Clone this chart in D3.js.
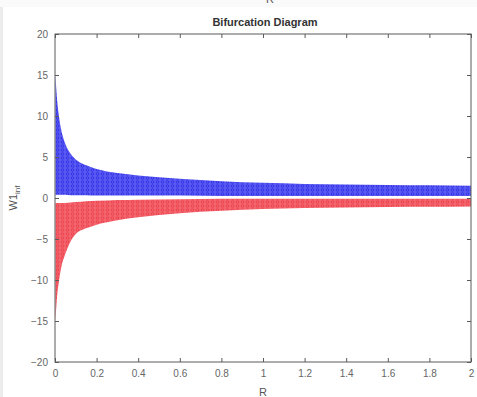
<!DOCTYPE html>
<html><head><meta charset="utf-8">
<script src="https://cdn.jsdelivr.net/npm/d3@7"></script>
<style>body{margin:0;background:#fff;} text{font-family:"Liberation Sans",Arial,sans-serif;}</style>
</head><body>
<script>
// Envelope of the scattered bifurcation points
const R          = [0.002, 0.01, 0.02, 0.03, 0.05, 0.075, 0.1, 0.15, 0.2, 0.3, 0.4, 0.6, 0.8, 1.0, 1.2, 1.4, 1.6, 1.8, 2.0];
const blueUpper  = [15, 12, 9.8, 8.3, 6.6, 5.4, 4.7, 4.0, 3.55, 3.05, 2.75, 2.35, 2.05, 1.85, 1.72, 1.65, 1.6, 1.55, 1.5];
const blueLower  = [0.4, 0.4, 0.4, 0.4, 0.4, 0.35, 0.35, 0.35, 0.3, 0.3, 0.3, 0.3, 0.25, 0.25, 0.25, 0.25, 0.25, 0.25, 0.25];
const redUpper   = [-0.6, -0.6, -0.6, -0.6, -0.6, -0.55, -0.5, -0.4, -0.35, -0.25, -0.2, -0.15, -0.1, -0.1, -0.1, -0.1, -0.1, -0.1, -0.1];
const redLower   = [-15, -12, -10, -8.5, -6.8, -5.3, -4.4, -3.7, -3.25, -2.7, -2.35, -1.85, -1.55, -1.35, -1.22, -1.15, -1.1, -1.08, -1.05];
const xTicks = [0, 0.2, 0.4, 0.6, 0.8, 1, 1.2, 1.4, 1.6, 1.8, 2];
const yTicks = [-20, -15, -10, -5, 0, 5, 10, 15, 20];

const W = 477, H = 397;
const m = {l: 55, r: 471, t: 34, b: 362};
const svg = d3.select("body").append("svg").attr("width", W).attr("height", H);

// screenshot frame artifacts
svg.append("rect").attr("x",0).attr("y",0).attr("width",3).attr("height",H).attr("fill","#ececec");
svg.append("rect").attr("x",0).attr("y",0).attr("width",W).attr("height",7).attr("fill","#fafafa");
svg.append("text").attr("x",270).attr("y",3).attr("text-anchor","middle").attr("font-size",11).attr("fill","#555").text("R");

const x = d3.scaleLinear().domain([0, 2]).range([m.l, m.r]);
const y = d3.scaleLinear().domain([-20, 20]).range([m.b, m.t]);

const defs = svg.append("defs");
function pat(id, base, dot) {
  const p = defs.append("pattern").attr("id", id).attr("patternUnits","userSpaceOnUse").attr("width",5).attr("height",4);
  p.append("rect").attr("width",5).attr("height",4).attr("fill", base);
  p.append("circle").attr("cx",2.5).attr("cy",2).attr("r",1.3).attr("fill","none").attr("stroke",dot).attr("stroke-width",0.8);
}
pat("pb", "#5a5af2", "#2a2ae6");
pat("pr", "#f2656d", "#ee3a45");

const idx = d3.range(R.length);
const areaB = d3.area().x(i => x(R[i])).y0(i => y(blueLower[i])).y1(i => y(blueUpper[i])).curve(d3.curveMonotoneX);
const areaR = d3.area().x(i => x(R[i])).y0(i => y(redUpper[i])).y1(i => y(redLower[i])).curve(d3.curveMonotoneX);
svg.append("path").datum(idx).attr("d", areaB).attr("fill", "url(#pb)");
svg.append("path").datum(idx).attr("d", areaR).attr("fill", "url(#pr)");

// box
const ax = "#5a5a5a";
svg.append("rect").attr("x", m.l).attr("y", m.t).attr("width", m.r - m.l).attr("height", m.b - m.t)
  .attr("fill","none").attr("stroke", ax).attr("stroke-width", 1);

const xb = svg.append("g").attr("transform", `translate(0,${m.b})`)
  .call(d3.axisBottom(x).tickValues(xTicks).tickSize(-4).tickPadding(8).tickFormat(d3.format("~g")));
const xt = svg.append("g").attr("transform", `translate(0,${m.t})`)
  .call(d3.axisTop(x).tickValues(xTicks).tickSize(-4).tickFormat(""));
const yl = svg.append("g").attr("transform", `translate(${m.l},0)`)
  .call(d3.axisLeft(y).tickValues(yTicks).tickSize(-4).tickPadding(7).tickFormat(d3.format("~g")));
const yr = svg.append("g").attr("transform", `translate(${m.r},0)`)
  .call(d3.axisRight(y).tickValues(yTicks).tickSize(-4).tickFormat(""));
[xb, xt, yl, yr].forEach(g => {
  g.select(".domain").remove();
  g.selectAll(".tick line").attr("stroke", ax);
  g.selectAll("text").attr("fill", "#666").attr("font-size", 10).style("font-family", '"Liberation Sans",Arial,sans-serif');
});

svg.append("text").attr("x", (m.l + m.r) / 2 + 2).attr("y", 26).attr("text-anchor","middle")
  .attr("font-size", 11).attr("font-weight","bold").attr("fill","#333").text("Bifurcation Diagram");
svg.append("text").attr("x", (m.l + m.r) / 2).attr("y", 396).attr("text-anchor","middle")
  .attr("font-size", 11).attr("fill","#555").text("R");
const yl2 = svg.append("text").attr("transform", "translate(17,198) rotate(-90)").attr("text-anchor","middle")
  .attr("font-size", 11).attr("fill","#555");
yl2.append("tspan").text("W1");
yl2.append("tspan").attr("font-size", 8).attr("dy", 3).text("inf");
</script>
</body></html>
